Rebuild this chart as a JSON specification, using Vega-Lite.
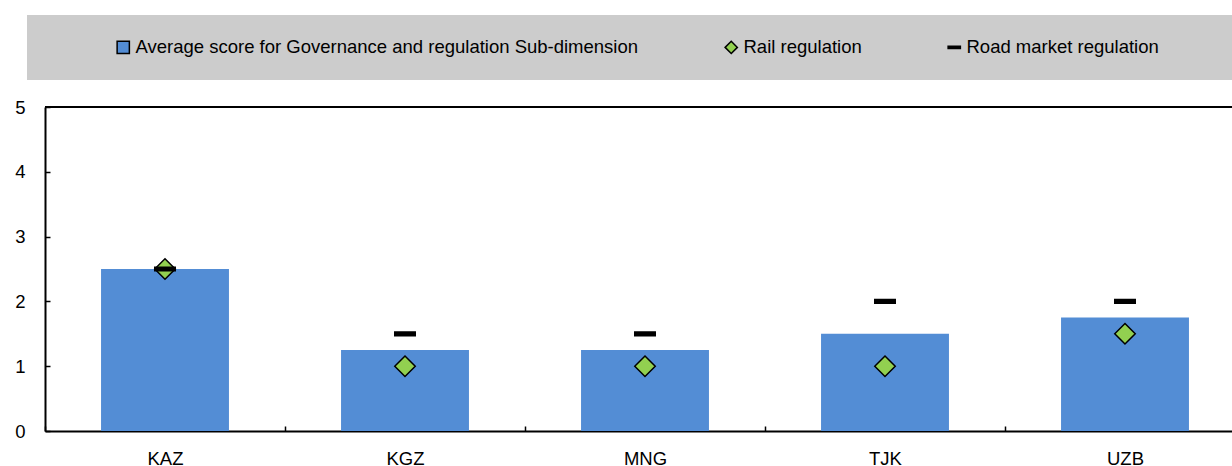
{
  "$schema": "https://vega.github.io/schema/vega-lite/v6.json",
  "width": 1187,
  "height": 324,
  "autosize": {"type": "none"},
  "padding": {"left": 45, "top": 107, "right": 0, "bottom": 35},
  "background": "white",
  "config": {"view": {"stroke": null}, "font": "Liberation Sans"},
  "data": {
    "values": [
      {"country": "KAZ", "series": "Average score for Governance and regulation Sub-dimension", "value": 2.5},
      {"country": "KGZ", "series": "Average score for Governance and regulation Sub-dimension", "value": 1.25},
      {"country": "MNG", "series": "Average score for Governance and regulation Sub-dimension", "value": 1.25},
      {"country": "TJK", "series": "Average score for Governance and regulation Sub-dimension", "value": 1.5},
      {"country": "UZB", "series": "Average score for Governance and regulation Sub-dimension", "value": 1.75},
      {"country": "KAZ", "series": "Rail regulation", "value": 2.5},
      {"country": "KGZ", "series": "Rail regulation", "value": 1},
      {"country": "MNG", "series": "Rail regulation", "value": 1},
      {"country": "TJK", "series": "Rail regulation", "value": 1},
      {"country": "UZB", "series": "Rail regulation", "value": 1.5},
      {"country": "KAZ", "series": "Road market regulation", "value": 2.5},
      {"country": "KGZ", "series": "Road market regulation", "value": 1.5},
      {"country": "MNG", "series": "Road market regulation", "value": 1.5},
      {"country": "TJK", "series": "Road market regulation", "value": 2},
      {"country": "UZB", "series": "Road market regulation", "value": 2}
    ]
  },
  "layer": [
    {
      "transform": [{"filter": "datum.series == 'Average score for Governance and regulation Sub-dimension'"}],
      "mark": {"type": "bar", "width": {"band": 0.533}},
      "encoding": {
        "x": {
          "field": "country", "type": "nominal", "sort": null,
          "scale": {"range": [0, 1200], "paddingInner": 0, "paddingOuter": 0},
          "axis": {"title": null, "labelAngle": 0, "tickBand": "extent", "tickSize": -5, "tickColor": "black", "tickWidth": 1.5, "domainColor": "black", "domainWidth": 2, "labelPadding": 23, "labelFontSize": 18.5, "labelColor": "black", "labelFont": "Liberation Sans"}
        },
        "y": {
          "field": "value", "type": "quantitative",
          "scale": {"domain": [0, 5]},
          "axis": {"title": null, "values": [0, 1, 2, 3, 4, 5], "format": "d", "grid": false, "tickSize": -5, "tickColor": "black", "tickWidth": 1.5, "domainColor": "black", "domainWidth": 2, "labelPadding": 25, "labelFontSize": 18.5, "labelColor": "black", "labelFont": "Liberation Sans"}
        },
        "color": {
          "field": "series", "type": "nominal", "sort": null,
          "scale": {"domain": ["Average score for Governance and regulation Sub-dimension", "Rail regulation", "Road market regulation"], "range": ["#538dd5", "#92d050", "#000000"]},
          "legend": {"orient": "none", "legendX": -18, "legendY": -92, "direction": "horizontal", "fillColor": "#cccccc", "padding": 23, "title": " ", "titleOrient": "right", "titlePadding": 70, "titleFontSize": 1, "labelFontSize": 18.5, "labelFont": "Liberation Sans", "labelColor": "black", "labelLimit": 1000, "symbolSize": 150, "symbolStrokeColor": "black", "symbolStrokeWidth": 1.5, "symbolOffset": 64, "columnPadding": 19, "labelOffset": 3}
        }
      }
    },
    {
      "mark": {"type": "rule", "color": "black", "strokeWidth": 1.5},
      "encoding": {"y": {"datum": 5}}
    },
    {
      "transform": [{"filter": "datum.series != 'Average score for Governance and regulation Sub-dimension'"}],
      "mark": {"type": "point", "filled": true, "stroke": "black", "strokeWidth": 1.5, "opacity": 1, "size": 420},
      "encoding": {
        "x": {"field": "country", "type": "nominal", "sort": null},
        "y": {"field": "value", "type": "quantitative"},
        "color": {
          "field": "series", "type": "nominal", "sort": null,
          "legend": {"orient": "none", "legendX": -18, "legendY": -92, "direction": "horizontal", "fillColor": "#cccccc", "padding": 23, "title": " ", "titleOrient": "right", "titlePadding": 70, "titleFontSize": 1, "labelFontSize": 18.5, "labelFont": "Liberation Sans", "labelColor": "black", "labelLimit": 1000, "symbolSize": 150, "symbolStrokeColor": "black", "symbolStrokeWidth": 1.5, "symbolOffset": 64, "columnPadding": 19, "labelOffset": 3}
        },
        "shape": {
          "field": "series", "type": "nominal", "sort": null,
          "scale": {"domain": ["Average score for Governance and regulation Sub-dimension", "Rail regulation", "Road market regulation"], "range": ["square", "diamond", "M-1,-0.18H1V0.18H-1Z"]},
          "legend": {"orient": "none", "legendX": -18, "legendY": -92, "direction": "horizontal", "fillColor": "#cccccc", "padding": 23, "title": " ", "titleOrient": "right", "titlePadding": 70, "titleFontSize": 1, "labelFontSize": 18.5, "labelFont": "Liberation Sans", "labelColor": "black", "labelLimit": 1000, "symbolSize": 150, "symbolStrokeColor": "black", "symbolStrokeWidth": 1.5, "symbolOffset": 64, "columnPadding": 19, "labelOffset": 3}
        }
      }
    }
  ]
}
